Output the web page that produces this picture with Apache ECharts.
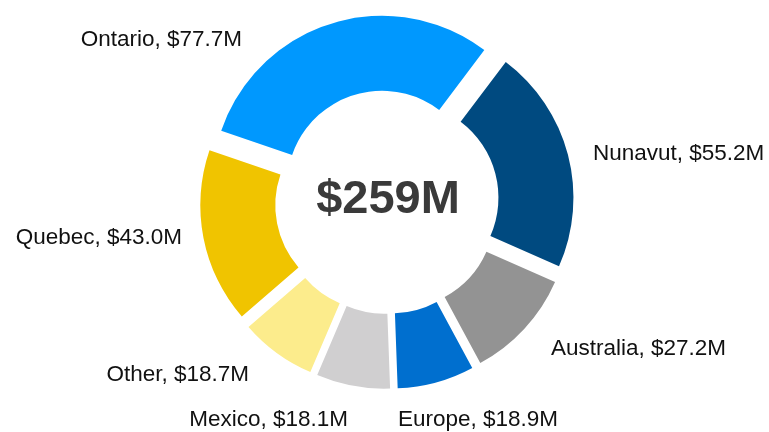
<!DOCTYPE html>
<html>
<head>
<meta charset="utf-8">
<script src="https://cdn.jsdelivr.net/npm/echarts@6/dist/echarts.min.js"></script>
<style>
	html, body { margin: 0; padding: 0; background: #fff; }
	#chart { width: 769px; height: 432px; }
</style>
</head>
<body>
<div id="chart"></div>
<script>
	// 数据
	var regions = ['Nunavut', 'Australia', 'Europe', 'Mexico', 'Other', 'Quebec', 'Ontario'];
	var amounts = [55.2, 27.2, 18.9, 18.1, 18.7, 43.0, 77.7];
	var totalLabel = '$259M';

	// 颜色
	var colors = ['#004a80', '#939393', '#006fcf', '#d0cfd0', '#fcec8c', '#f0c400', '#0098fe'];
	// 标签位置 [x, y, 对齐]
	var labelPos = [
		[593, 154, 'left'],
		[551, 349, 'left'],
		[398, 420, 'left'],
		[348, 420, 'right'],
		[249, 375, 'right'],
		[182, 238, 'right'],
		[242, 40, 'right']
	];

	var myChart = echarts.init(document.getElementById('chart'));
	var font = '"Liberation Sans", Arial, sans-serif';

	var pieBase = {
		type: 'pie',
		center: [387, 202],
		radius: [95, 170],
		startAngle: 53,
		clockwise: true,
		emphasis: { disabled: true }
	};

	myChart.setOption({
		animation: false,
		color: colors,
		graphic: [{
			type: 'text',
			x: 388,
			y: 200,
			silent: true,
			style: {
				text: totalLabel,
				fill: '#3a3a3a',
				font: 'bold 47px ' + font,
				align: 'center',
				verticalAlign: 'middle'
			}
		}],
		series: [
			// 分离扇区
			Object.assign({}, pieBase, {
				selectedMode: 'multiple',
				selectedOffset: 17,
				label: { show: false },
				labelLine: { show: false },
				data: regions.map(function (name, i) {
					return { name: name, value: amounts[i], selected: true };
				})
			}),
			// 标签
			Object.assign({}, pieBase, {
				silent: true,
				itemStyle: { color: 'rgba(0,0,0,0)' },
				label: {
					show: true,
					position: 'outside',
					overflow: 'none',
					color: '#111',
					fontSize: 22.5,
					fontFamily: font,
					formatter: function (p) {
						return p.name + ', $' + p.value.toFixed(1) + 'M';
					}
				},
				labelLine: { show: false },
				labelLayout: function (params) {
					var lp = labelPos[params.dataIndex];
					return { x: lp[0], y: lp[1], align: lp[2], verticalAlign: 'middle' };
				},
				data: regions.map(function (name, i) {
					return { name: name, value: amounts[i] };
				})
			})
		]
	});
</script>
</body>
</html>
